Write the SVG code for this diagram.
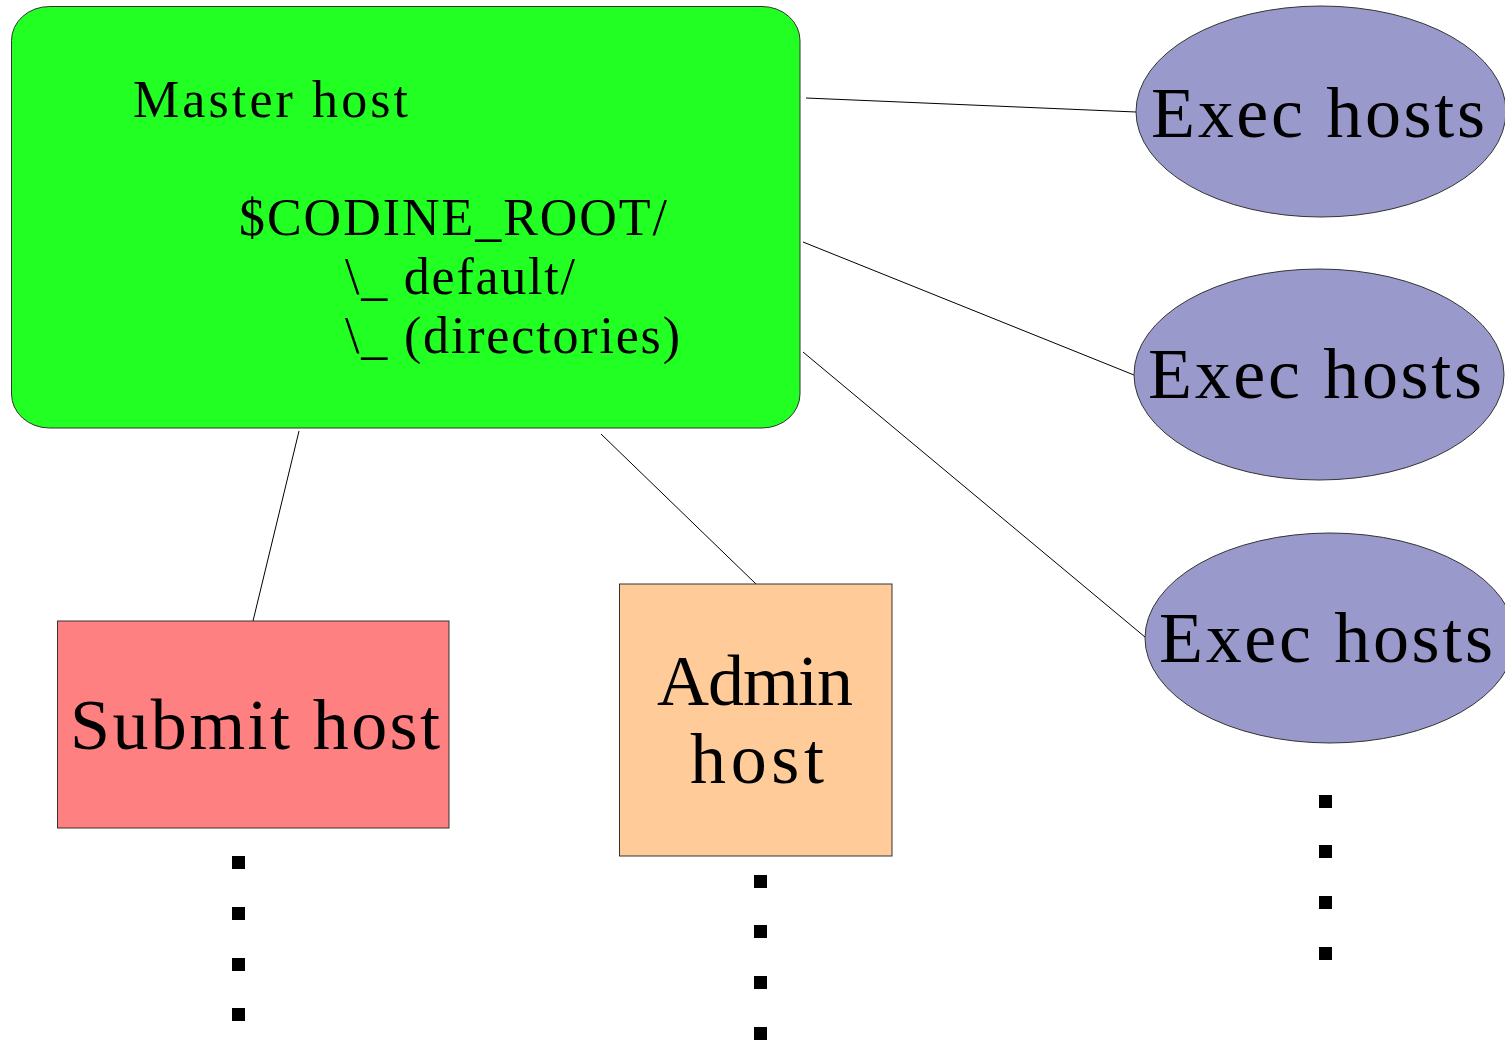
<svg xmlns="http://www.w3.org/2000/svg" width="1505" height="1041" viewBox="0 0 1505 1041">
  <style>
    .shape { stroke: #333333; stroke-width: 1; }
    .master { fill: #22ff22; }
    .exec { fill: #9999cc; }
    .submit { fill: #ff8080; }
    .admin { fill: #ffcc99; }
    .label { font-family: "Liberation Serif", "Times New Roman", serif; fill: #000000; }
    .small { font-size: 52px; }
    .big { font-size: 72px; }
    .link { stroke: #000000; stroke-width: 1; fill: none; }
    .dot { fill: #000000; }
  </style>

  <rect width="1505" height="1041" fill="#ffffff"/>

  <!-- connectors -->
  <g id="connectors">
    <line class="link" x1="806" y1="98" x2="1136" y2="112"/>
    <line class="link" x1="803" y1="242" x2="1134" y2="375"/>
    <line class="link" x1="803" y1="352" x2="1145" y2="637"/>
    <line class="link" x1="299" y1="431" x2="253" y2="621"/>
    <line class="link" x1="601" y1="434" x2="756" y2="584"/>
  </g>

  <!-- master host -->
  <g id="master-host">
    <rect class="shape master" x="11.5" y="6.5" width="788.5" height="421.5" rx="38" ry="34"/>
    <text class="label small" x="133" y="117" textLength="275" lengthAdjust="spacing">Master host</text>
    <text class="label small" x="239" y="235" textLength="428" lengthAdjust="spacing">$CODINE_ROOT/</text>
    <text class="label small" x="345" y="294" textLength="230" lengthAdjust="spacing">\_ default/</text>
    <text class="label small" x="345" y="353" textLength="335" lengthAdjust="spacing">\_ (directories)</text>
  </g>

  <!-- execution hosts -->
  <g id="exec-host-1">
    <ellipse class="shape exec" cx="1321" cy="111.5" rx="185" ry="105.5"/>
    <text class="label big" x="1151" y="137" textLength="334" lengthAdjust="spacing">Exec hosts</text>
  </g>
  <g id="exec-host-2">
    <ellipse class="shape exec" cx="1319" cy="374.5" rx="185" ry="105.5"/>
    <text class="label big" x="1148" y="398" textLength="334" lengthAdjust="spacing">Exec hosts</text>
  </g>
  <g id="exec-host-3">
    <ellipse class="shape exec" cx="1330" cy="638" rx="185" ry="105"/>
    <text class="label big" x="1159" y="662" textLength="334" lengthAdjust="spacing">Exec hosts</text>
  </g>

  <!-- submit host -->
  <g id="submit-host">
    <rect class="shape submit" x="57.5" y="621" width="391.5" height="207"/>
    <text class="label big" x="70" y="749" textLength="370" lengthAdjust="spacing">Submit host</text>
  </g>

  <!-- admin host -->
  <g id="admin-host">
    <rect class="shape admin" x="619.5" y="584" width="272.5" height="272"/>
    <text class="label big" x="657" y="705" textLength="196" lengthAdjust="spacing">Admin</text>
    <text class="label big" x="690" y="783" textLength="134" lengthAdjust="spacing">host</text>
  </g>

  <!-- ellipsis marks below each host column -->
  <g id="more-submit">
    <rect class="dot" x="232" y="856" width="13" height="13"/>
    <rect class="dot" x="232" y="907" width="13" height="13"/>
    <rect class="dot" x="232" y="958" width="13" height="13"/>
    <rect class="dot" x="232" y="1008" width="13" height="13"/>
  </g>
  <g id="more-admin">
    <rect class="dot" x="754" y="875" width="13" height="13"/>
    <rect class="dot" x="754" y="925" width="13" height="13"/>
    <rect class="dot" x="754" y="976" width="13" height="13"/>
    <rect class="dot" x="754" y="1027" width="13" height="13"/>
  </g>
  <g id="more-exec">
    <rect class="dot" x="1319" y="795" width="13" height="13"/>
    <rect class="dot" x="1319" y="845" width="13" height="13"/>
    <rect class="dot" x="1319" y="896" width="13" height="13"/>
    <rect class="dot" x="1319" y="947" width="13" height="13"/>
  </g>
</svg>
